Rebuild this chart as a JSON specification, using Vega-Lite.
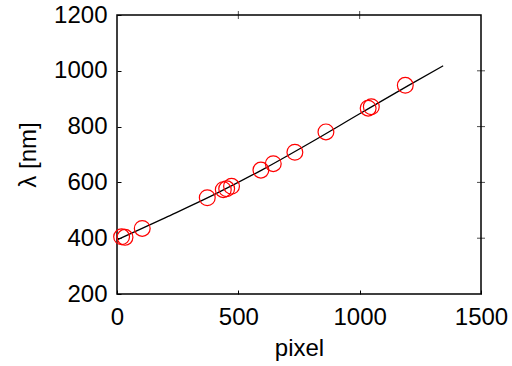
{
  "$schema": "https://vega.github.io/schema/vega-lite/v6.json",
  "width": 364,
  "height": 279,
  "autosize": "none",
  "padding": {"left": 117, "top": 15, "right": 31, "bottom": 72},
  "background": "white",
  "config": {
    "view": {"stroke": "black", "strokeWidth": 1.5},
    "font": "Liberation Sans"
  },
  "datasets": {
    "pts": [
      {"pixel": 19, "lambda": 405},
      {"pixel": 33, "lambda": 403},
      {"pixel": 104, "lambda": 435},
      {"pixel": 372, "lambda": 545},
      {"pixel": 438, "lambda": 574},
      {"pixel": 452, "lambda": 577},
      {"pixel": 472, "lambda": 586},
      {"pixel": 593, "lambda": 644},
      {"pixel": 644, "lambda": 667},
      {"pixel": 733, "lambda": 708},
      {"pixel": 861, "lambda": 781},
      {"pixel": 1035, "lambda": 866},
      {"pixel": 1048, "lambda": 871},
      {"pixel": 1188, "lambda": 948}
    ],
    "fit": [
      {"pixel": 0, "lambda": 394},
      {"pixel": 200, "lambda": 474},
      {"pixel": 400, "lambda": 556},
      {"pixel": 600, "lambda": 646},
      {"pixel": 800, "lambda": 744},
      {"pixel": 1000, "lambda": 846},
      {"pixel": 1200, "lambda": 947},
      {"pixel": 1344, "lambda": 1018}
    ]
  },
  "layer": [
    {
      "data": {"name": "fit"},
      "mark": {"type": "line", "color": "black", "strokeWidth": 1.3, "interpolate": "monotone"},
      "encoding": {
        "x": {"field": "pixel", "type": "quantitative", "scale": {"domain": [0, 1500], "nice": false}, "axis": {"values": [0, 500, 1000, 1500], "format": "d", "title": "pixel", "grid": false, "domain": false, "tickColor": "black", "tickSize": -4, "labelFlush": false, "labelFont": "Liberation Sans", "labelFontSize": 24, "labelColor": "black", "labelPadding": 15, "titleFont": "Liberation Sans", "titleFontSize": 24, "titleFontWeight": "normal", "titleColor": "black", "titlePadding": 7}},
        "y": {"field": "lambda", "type": "quantitative", "scale": {"domain": [200, 1200], "nice": false, "zero": false}, "axis": {"values": [200, 400, 600, 800, 1000, 1200], "format": "d", "title": "λ [nm]", "grid": false, "domain": false, "tickColor": "black", "tickSize": -4, "labelFlush": false, "labelFont": "Liberation Sans", "labelFontSize": 24, "labelColor": "black", "labelPadding": 14, "titleFont": "Liberation Sans", "titleFontSize": 24, "titleFontWeight": "normal", "titleColor": "black", "titlePadding": 13}}
      }
    },
    {
      "data": {"name": "pts"},
      "mark": {"type": "point", "shape": "circle", "filled": false, "color": "#ff0000", "size": 250, "strokeWidth": 1.2, "opacity": 1},
      "encoding": {
        "x": {"field": "pixel", "type": "quantitative"},
        "y": {"field": "lambda", "type": "quantitative"}
      }
    },
    {
      "data": {"values": [{"v": 500}, {"v": 1000}]},
      "mark": {"type": "tick", "orient": "vertical", "color": "black", "size": 8, "thickness": 1},
      "encoding": {"x": {"field": "v", "type": "quantitative"}, "y": {"datum": 1200}}
    },
    {
      "data": {"values": [{"v": 400}, {"v": 600}, {"v": 800}, {"v": 1000}]},
      "mark": {"type": "tick", "orient": "horizontal", "color": "black", "size": 8, "thickness": 1},
      "encoding": {"y": {"field": "v", "type": "quantitative"}, "x": {"datum": 1500}}
    }
  ]
}
